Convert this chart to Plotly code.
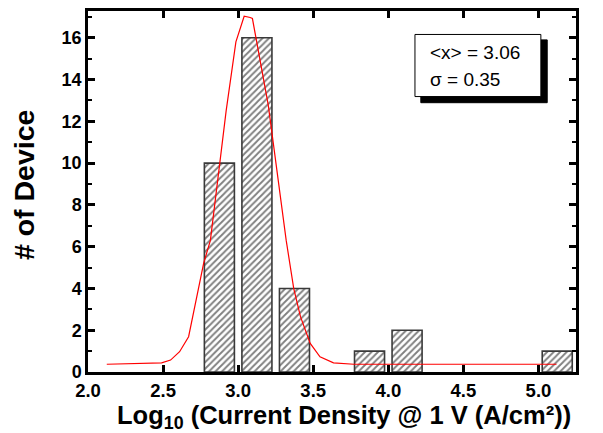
import plotly.graph_objects as go

# Histogram data (bin centers, counts)
bin_centers = [2.875, 3.125, 3.375, 3.875, 4.125, 5.125]
counts = [10, 16, 4, 1, 2, 1]

# Gaussian fit curve points
fit_x = [2.125, 2.49, 2.55, 2.61, 2.67, 2.725, 2.77, 2.815, 2.92, 2.985, 3.04, 3.08, 3.095,
         3.20, 3.32, 3.37, 3.415, 3.48, 3.545, 3.635, 3.77, 5.12]
fit_y = [0.37, 0.44, 0.57, 0.97, 1.69, 3.6, 5.2, 6.3, 12.5, 15.8, 17.03, 16.97, 16.92,
         12.8, 6.3, 4.0, 2.65, 1.37, 0.73, 0.44, 0.37, 0.37]

x_ticks = [2.0, 2.5, 3.0, 3.5, 4.0, 4.5, 5.0]
y_ticks = [0, 2, 4, 6, 8, 10, 12, 14, 16]

FONT = "Liberation Sans, Arial"

fig = go.Figure()
fig.add_trace(go.Bar(
    x=bin_centers, y=counts, width=0.2,
    marker=dict(color="white",
                line=dict(color="#3a3a3a", width=1.6),
                pattern=dict(shape="/", fgcolor="black", bgcolor="white", size=4.6, solidity=0.4)),
    showlegend=False,
))
fig.add_trace(go.Scatter(
    x=fit_x, y=fit_y, mode="lines",
    line=dict(color="#ff0000", width=1.2),
    showlegend=False,
))

# page body has an 8px margin; figure sized so the plot area lands where the reference has it
fig.update_layout(
    width=595, height=425,
    margin=dict(l=80, r=27, t=3, b=61, autoexpand=False),
    plot_bgcolor="white", paper_bgcolor="white",
    font=dict(family=FONT, color="black"),
    xaxis=dict(
        range=[2.0, 5.25], tickvals=x_ticks, ticktext=[f"{v:.1f}" for v in x_ticks],
        ticks="inside", ticklen=7, tickwidth=2.5, tickcolor="black",
        showline=True, linewidth=2.5, linecolor="black", mirror="ticks",
        showgrid=False, zeroline=False, automargin=False,
        tickfont=dict(family=FONT, size=18.5, color="black", weight="bold"),
    ),
    yaxis=dict(
        range=[0, 17.28], tickvals=y_ticks,
        ticks="inside", ticklen=7, tickwidth=2.5, tickcolor="black",
        minor=dict(dtick=1, ticks="inside", ticklen=4, tickwidth=2, tickcolor="black"),
        showline=True, linewidth=2.5, linecolor="black", mirror="ticks",
        showgrid=False, zeroline=False, automargin=False,
        tickfont=dict(family=FONT, size=18, color="black", weight="bold"),
    ),
)

# Axis titles
fig.add_annotation(xref="paper", yref="paper", x=0.525, y=-0.124, xanchor="center", yanchor="middle",
                   text="Log<sub>10</sub> (Current Density @ 1 V (A/cm²))", showarrow=False,
                   font=dict(family=FONT, size=25.5, color="black", weight="bold"))
fig.add_annotation(xref="paper", yref="paper", x=-0.131, y=0.518, xanchor="center", yanchor="middle",
                   text="# of Device", showarrow=False, textangle=-90,
                   font=dict(family=FONT, size=28.5, color="black", weight="bold"))

# Stats box with drop shadow
fig.add_shape(type="rect", xref="paper", yref="paper",
              x0=0.682, x1=0.941, y0=0.746, y1=0.920,
              fillcolor="black", line=dict(color="black", width=1), layer="above")
fig.add_shape(type="rect", xref="paper", yref="paper",
              x0=0.670, x1=0.928, y0=0.763, y1=0.935,
              fillcolor="white", line=dict(color="black", width=1), layer="above")
fig.add_annotation(xref="paper", yref="paper", x=0.697, y=0.884, xanchor="left", yanchor="middle",
                   text="&lt;x&gt; = 3.06", showarrow=False,
                   font=dict(family=FONT, size=19, color="black"))
fig.add_annotation(xref="paper", yref="paper", x=0.697, y=0.809, xanchor="left", yanchor="middle",
                   text="σ = 0.35", showarrow=False,
                   font=dict(family=FONT, size=19, color="black"))

fig.write_html("out.html")
